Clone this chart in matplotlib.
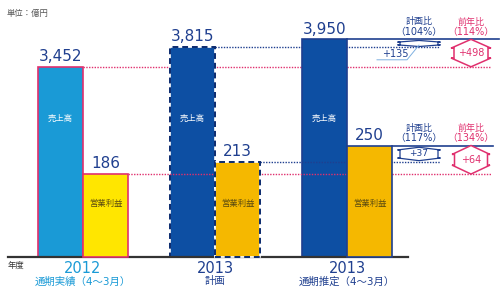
import matplotlib
matplotlib.use("Agg")
import matplotlib.pyplot as plt
from matplotlib.patches import Polygon

plt.rcParams['font.family'] = ['DejaVu Sans', 'Noto Sans CJK JP']

# ---- data ----
groups = ["2012", "2013", "2013"]
group_sub = ["通期実績（4～3月）", "計画", "通期推定（4～3月）"]
sales = [3452, 3815, 3950]
profit = [186, 213, 250]
sales_labels = ["3,452", "3,815", "3,950"]
profit_labels = ["186", "213", "250"]
plan_ratio_sales = "（104%）"
prev_ratio_sales = "（114%）"
plan_ratio_profit = "（117%）"
prev_ratio_profit = "（134%）"
diff_plan_sales = "+135"
diff_prev_sales = "+498"
diff_plan_profit = "+37"
diff_prev_profit = "+64"

# ---- styles ----
NAVY = "#1f3f8f"
PINK = "#e0306e"
LBLUE = "#1a9ad6"
DBLUE = "#0d4fa3"
YEL = "#ffe600"
ORG = "#f5b800"

W, H = 500, 294
fig = plt.figure(figsize=(W / 100, H / 100), dpi=100)
ax = fig.add_axes([0, 0, 1, 1])
ax2 = ax.twinx()
ax2.set_position([0, 0, 1, 1])
for a in (ax, ax2):
    a.axis("off")

# scales
x0_px, dx_px = 83, 132
base_px = 37  # from bottom
s_px = 0.0551  # px per sales unit
p_px = 0.446   # px per profit unit
ax.set_xlim(-x0_px / dx_px, (W - x0_px) / dx_px)
ax2.set_xlim(ax.get_xlim())
ax.set_ylim(-base_px / s_px, (H - base_px) / s_px)
ax2.set_ylim(-base_px / p_px, (H - base_px) / p_px)

bw = 45 / dx_px
xs = [0, 1, 2]
px = 1 / dx_px  # one pixel in x data units

def xfrac(xd):
    lo, hi = ax.get_xlim()
    return (xd - lo) / (hi - lo)

# annotation columns
col_plan = 336 * px
col_prev = 388 * px

# reference lines (behind bars)
ax.plot([xs[0], col_prev + 20 * px], [sales[0]] * 2, color=PINK, lw=1, ls=(0, (1, 1)), zorder=1)
ax.plot([xs[1], col_plan + 21 * px], [sales[1]] * 2, color=NAVY, lw=1, ls=(0, (1, 1)), zorder=1)
ax.plot([xs[2], col_prev + 28 * px], [sales[2]] * 2, color=NAVY, lw=1.2, zorder=1)
ax2.plot([xs[0] + bw, col_prev + 20 * px], [profit[0]] * 2, color=PINK, lw=1, ls=(0, (1, 1)), zorder=1)
ax2.plot([xs[1] + bw, col_plan + 21 * px], [profit[1]] * 2, color=NAVY, lw=1, ls=(0, (1, 1)), zorder=1)
ax2.plot([xs[2] + bw, col_prev + 22 * px], [profit[2]] * 2, color=NAVY, lw=1.2, zorder=1)

# bars
sales_fc = [LBLUE, DBLUE, DBLUE]
sales_ec = [PINK, "white", NAVY]
profit_fc = [YEL, ORG, ORG]
profit_ec = [PINK, "white", NAVY]
for i in xs:
    ax.bar(xs[i] - bw / 2, sales[i], width=bw, color=sales_fc[i], edgecolor=sales_ec[i], lw=1.2, zorder=3)
    ax2.bar(xs[i] + bw / 2, profit[i], width=bw, color=profit_fc[i], edgecolor=profit_ec[i], lw=1.2, zorder=3)
# dashed outlines for plan
ax.bar(xs[1] - bw / 2, sales[1], width=bw, fill=False, edgecolor="#0a2a6e", lw=1.4, ls=(0, (3, 2)), zorder=4)
ax2.bar(xs[1] + bw / 2, profit[1], width=bw, fill=False, edgecolor="#0a2a6e", lw=1.4, ls=(0, (3, 2)), zorder=4)

# labels on bars
for i in xs:
    ax.annotate(sales_labels[i], (xs[i] - bw / 2, sales[i]), xytext=(0, 2), textcoords="offset points",
                ha="center", va="bottom", fontsize=11, color=NAVY, zorder=5)
    ax2.annotate(profit_labels[i], (xs[i] + bw / 2, profit[i]), xytext=(0, 2), textcoords="offset points",
                 ha="center", va="bottom", fontsize=11, color=NAVY, zorder=5)
    ax.text(xs[i] - bw / 2, 2520, "売上高", ha="center", va="center", fontsize=6, color="white", zorder=5)
    ax2.text(xs[i] + bw / 2, 121, "営業利益", ha="center", va="center", fontsize=6, color="#5a4a10", zorder=5)

# baseline
ax.axhline(0, xmin=xfrac(-75 * px), xmax=xfrac(325 * px), color="#333333", lw=1.6, zorder=6)

# category labels
for i in xs:
    ax.annotate(groups[i], (xs[i], 0), xytext=(0, -3), textcoords="offset points",
                ha="center", va="top", fontsize=10.5, color=LBLUE if i == 0 else NAVY)
    ax.annotate(group_sub[i], (xs[i], 0), xytext=(0, -14), textcoords="offset points",
                ha="center", va="top", fontsize=7.5, color=LBLUE if i == 0 else NAVY)

fig.text(7 / W, 1 - 13 / H, "単位：億円", fontsize=6, color="#555555", va="center", ha="left")
fig.text(8 / W, 1 - 265 / H, "年度", fontsize=6, color="#333333", va="center", ha="left")

# ratio headers
def headers(a, v, ratio_plan, ratio_prev):
    a.annotate("計画比", (col_plan, v), xytext=(0, 12.5), textcoords="offset points",
               ha="center", va="center", fontsize=6.5, color=NAVY)
    a.annotate(ratio_plan, (col_plan, v), xytext=(0, 5), textcoords="offset points",
               ha="center", va="center", fontsize=7, color=NAVY)
    a.annotate("前年比", (col_prev, v), xytext=(0, 12.5), textcoords="offset points",
               ha="center", va="center", fontsize=6.5, color=PINK)
    a.annotate(ratio_prev, (col_prev, v), xytext=(0, 5), textcoords="offset points",
               ha="center", va="center", fontsize=7, color=PINK)

headers(ax, sales[2], plan_ratio_sales, prev_ratio_sales)
headers(ax2, profit[2], plan_ratio_profit, prev_ratio_profit)

def dbl_arrow(a, cx, lo, hi, hw, sw, hh, color, lw=1.0):
    pts = [(cx, hi), (cx + hw, hi - hh), (cx + sw, hi - hh), (cx + sw, lo + hh),
           (cx + hw, lo + hh), (cx, lo), (cx - hw, lo + hh), (cx - sw, lo + hh),
           (cx - sw, hi - hh), (cx - hw, hi - hh)]
    a.add_patch(Polygon(pts, closed=True, fill=True, facecolor="white", edgecolor=color, lw=lw, zorder=5))

# sales arrows
dbl_arrow(ax, col_plan, sales[1] + 5, sales[2] - 20, 21.5 * px, 19 * px, 30, NAVY, 0.9)
dbl_arrow(ax, col_prev, sales[0], sales[2], 20 * px, 17 * px, 160, PINK, 1.1)
ax.text(col_prev, (sales[0] + sales[2]) / 2, diff_prev_sales, ha="center", va="center",
        fontsize=7, color=PINK, zorder=6)
# leader for +135
ly = sales[1] - 13 / s_px
ax.plot([col_plan - 42 * px, col_plan - 12 * px, col_plan], [ly, ly, sales[1] + 30],
        color="#7fb0e0", lw=0.7, zorder=5)
ax.text(col_plan - 24 * px, ly + 15, diff_plan_sales, ha="center", va="bottom",
        fontsize=7, color=NAVY, zorder=6)

# profit arrows
dbl_arrow(ax2, col_plan, profit[1] + 3, profit[2] - 4, 21.5 * px, 19 * px, 6, NAVY, 0.9)
ax2.text(col_plan, (profit[1] + profit[2]) / 2 + 1, diff_plan_profit, ha="center", va="center",
         fontsize=6.5, color=NAVY, zorder=6)
dbl_arrow(ax2, col_prev, profit[0], profit[2], 19 * px, 16.5 * px, 20, PINK, 1.1)
ax2.text(col_prev, (profit[0] + profit[2]) / 2, diff_prev_profit, ha="center", va="center",
         fontsize=7, color=PINK, zorder=6)

fig.savefig("out.png", dpi=100)
